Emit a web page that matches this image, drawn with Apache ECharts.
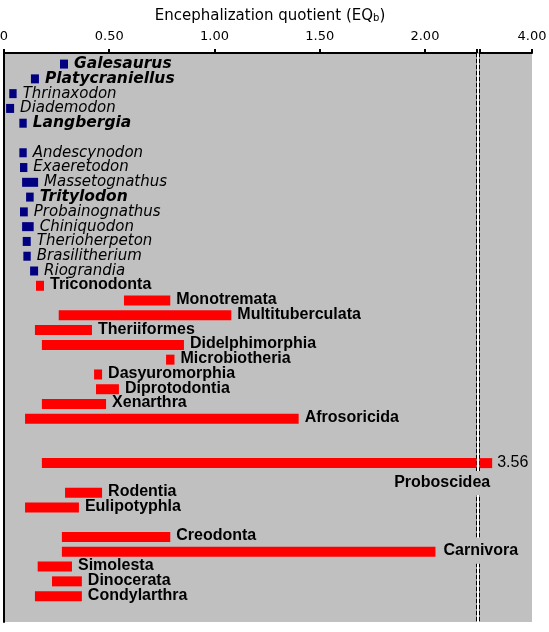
<!DOCTYPE html>
<html lang="en">
<head>
    <meta charset="UTF-8">
    <title>Encephalization quotient</title>
    <style>
        html, body {
            margin: 0;
            padding: 0;
            width: 100%;
            height: 100%;
            background: #ffffff;
            overflow: hidden;
        }

        #container {
            width: 549px;
            height: 632px;
        }
    </style>
</head>
<body>
<div id="container"></div>
<script src="https://cdn.jsdelivr.net/npm/echarts@6/dist/echarts.min.js"></script>
<script>
    // rows top to bottom, '' is an empty spacer row
    var taxa = ['Galesaurus', 'Platycraniellus', 'Thrinaxodon', 'Diademodon', 'Langbergia', '',
        'Andescynodon', 'Exaeretodon', 'Massetognathus', 'Tritylodon', 'Probainognathus', 'Chiniquodon',
        'Therioherpeton', 'Brasilitherium', 'Riograndia',
        'Triconodonta', 'Monotremata', 'Multituberculata', 'Theriiformes', 'Didelphimorphia', 'Microbiotheria',
        'Dasyuromorphia', 'Diprotodontia', 'Xenarthra', 'Afrosoricida', '', '',
        'Proboscidea', '', 'Rodentia', 'Eulipotyphla', '',
        'Creodonta', 'Carnivora', 'Simolesta', 'Dinocerata', 'Condylarthra'];

    // lowest and highest EQ of each row
    var eqMin = [0.266, 0.128, 0.025, 0.010, 0.073, null,
        0.073, 0.076, 0.086, 0.105, 0.076, 0.086, 0.089, 0.092, 0.124,
        0.152, 0.57, 0.26, 0.147, 0.18, 0.77, 0.428, 0.437, 0.18, 0.10, null, null,
        0.18, null, 0.29, 0.10, null,
        0.275, 0.275, 0.16, 0.228, 0.147];
    var eqMax = [0.304, 0.166, 0.060, 0.048, 0.108, null,
        0.108, 0.111, 0.162, 0.141, 0.113, 0.141, 0.127, 0.127, 0.162,
        0.19, 0.79, 1.08, 0.418, 0.855, 0.81, 0.466, 0.546, 0.485, 1.40, null, null,
        3.56, null, 0.466, 0.356, null,
        0.79, 2.05, 0.323, 0.37, 0.37];

    // non-mammalian cynodonts (blue), the rest are mammals (red)
    var cynodonts = ['Galesaurus', 'Platycraniellus', 'Thrinaxodon', 'Diademodon', 'Langbergia',
        'Andescynodon', 'Exaeretodon', 'Massetognathus', 'Tritylodon', 'Probainognathus', 'Chiniquodon',
        'Therioherpeton', 'Brasilitherium', 'Riograndia'];
    var boldNames = ['Galesaurus', 'Platycraniellus', 'Langbergia', 'Tritylodon'];

    var lowTicks = [0, 0.5, 1, 1.5, 2];
    var topValue = 4.0;
    // the axis is broken between these two values
    var breakStart = 2.245, breakEnd = 3.42;

    var rows = [];
    for (var i = 0; i < taxa.length; i++) {
        if (taxa[i]) rows.push([i, eqMin[i], eqMax[i]]);
    }

    var measureCtx = document.createElement('canvas').getContext('2d');
    function textWidth(txt, font) {
        measureCtx.font = font;
        return measureCtx.measureText(txt).width;
    }

    var RED_FONT = 'bold 16px "Liberation Sans", Arial';
    var NUM_FONT = '16px "Liberation Sans", Arial';

    function renderRange(params, api) {
        var row = api.value(0), lo = api.value(1), hi = api.value(2);
        var name = taxa[row];
        var blue = cynodonts.indexOf(name) >= 0;
        var thick = blue ? 9 : 10;
        var a = api.coord([lo, row]), b = api.coord([hi, row]);
        var cs = params.coordSys;
        var rect = echarts.graphic.clipRectByRect(
            {x: a[0], y: a[1] - thick / 2, width: b[0] - a[0], height: thick},
            {x: cs.x, y: cs.y, width: cs.width, height: cs.height});
        if (!rect) return;

        var children = [{type: 'rect', shape: rect, style: {fill: blue ? '#000080' : '#ff0000'}}];
        var endsHere = b[0] >= cs.x && b[0] <= cs.x + cs.width + 0.5;
        if (endsHere) {
            if (hi > breakEnd) {
                // bar runs past the break: value on the right, name underneath
                children.push({
                    type: 'text', x: b[0] + 5, y: a[1] - 1,
                    style: {text: hi.toFixed(2), font: NUM_FONT, fill: '#000', align: 'left', verticalAlign: 'middle'}
                });
                children.push({
                    type: 'text', x: b[0], y: a[1] + thick / 2 + 3,
                    style: {
                        text: name, font: RED_FONT, fill: '#000', align: 'right', verticalAlign: 'top',
                        backgroundColor: '#c0c0c0', padding: [3, 2, 5, 2]
                    }
                });
            } else {
                var font;
                if (blue) {
                    font = (boldNames.indexOf(name) >= 0 ? 'italic bold 15.5px' : 'italic 15px') + ' "DejaVu Sans"';
                } else {
                    font = RED_FONT;
                }
                var tx = b[0] + 6;
                var edge = cs.x + cs.width;
                var crosses = tx < edge && tx + textWidth(name, font) > edge;
                var st = {text: name, font: font, fill: '#000', align: 'left', verticalAlign: 'middle'};
                if (crosses) {
                    st.backgroundColor = '#c0c0c0';
                    st.padding = [5, 2, 5, 2];
                }
                children.push({type: 'text', x: tx, y: a[1] - (blue ? 0 : 1), style: st});
            }
        }
        return {type: 'group', children: children};
    }

    function rowAxis(pos, lineStyle) {
        return {
            type: 'value', inverse: true, min: -0.75, max: 37.75, position: pos,
            axisLine: {show: true, onZero: false, lineStyle: lineStyle},
            axisTick: {show: false}, axisLabel: {show: false}, splitLine: {show: false}
        };
    }

    var axisFont = {color: '#000', fontFamily: 'DejaVu Sans', fontSize: 13, margin: 10};

    var myChart = echarts.init(document.getElementById('container'));
    var option = {
        animation: false,
        graphic: [{
            type: 'text', x: 270, y: 16,
            style: {
                text: 'Encephalization quotient (EQ{s|b})',
                fontFamily: 'DejaVu Sans', fontSize: 15, fill: '#000',
                align: 'center', verticalAlign: 'middle',
                rich: {s: {fontFamily: 'DejaVu Sans', fontSize: 10, verticalAlign: 'bottom', fill: '#000'}}
            }
        }],
        grid: [
            {left: 4, right: 549 - 476.5, top: 53, bottom: 10, show: true, backgroundColor: '#c0c0c0',
                borderWidth: 0, outerBoundsMode: 'none', containLabel: false},
            {left: 479.5, right: 17, top: 53, bottom: 10, show: true, backgroundColor: '#c0c0c0',
                borderWidth: 0, outerBoundsMode: 'none', containLabel: false}
        ],
        xAxis: [
            {
                gridIndex: 0, type: 'value', position: 'top', min: 0, max: breakStart,
                axisLine: {show: true, onZero: false, lineStyle: {color: '#000', width: 2}},
                axisTick: {show: true, inside: false, length: 4, lineStyle: {color: '#000', width: 2},
                    customValues: lowTicks.concat([breakStart])},
                axisLabel: Object.assign({
                    customValues: lowTicks,
                    formatter: function (v) { return v === 0 ? '0' : v.toFixed(2); }
                }, axisFont),
                splitLine: {show: false}
            },
            {
                gridIndex: 1, type: 'value', position: 'top', min: breakEnd, max: topValue,
                axisLine: {show: true, onZero: false, lineStyle: {color: '#000', width: 2}},
                axisTick: {show: true, inside: false, length: 4, lineStyle: {color: '#000', width: 2},
                    customValues: [breakEnd, topValue]},
                axisLabel: Object.assign({
                    customValues: [topValue],
                    formatter: function (v) { return v.toFixed(2); }
                }, axisFont),
                splitLine: {show: false}
            }
        ],
        yAxis: [
            Object.assign(rowAxis('left', {color: '#000', width: 2}), {gridIndex: 0}),
            Object.assign(rowAxis('right', {color: '#000', width: 1, type: [4, 2]}), {gridIndex: 0}),
            Object.assign(rowAxis('left', {color: '#000', width: 1, type: [4, 2]}), {gridIndex: 1})
        ],
        series: [
            {
                type: 'custom', xAxisIndex: 0, yAxisIndex: 0, silent: true,
                encode: {x: [1, 2], y: 0}, renderItem: renderRange, data: rows
            },
            {
                type: 'custom', xAxisIndex: 1, yAxisIndex: 2, silent: true,
                encode: {x: [1, 2], y: 0}, renderItem: renderRange, data: rows
            }
        ]
    };
    myChart.setOption(option);
</script>
</body>
</html>
